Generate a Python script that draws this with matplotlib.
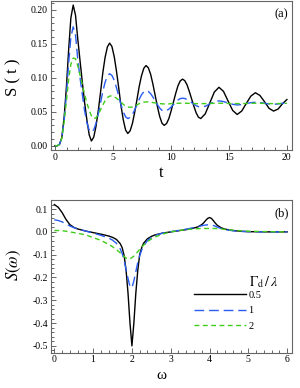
import matplotlib.pyplot as plt
from matplotlib.ticker import MultipleLocator, FormatStrFormatter

plt.rcParams['font.family'] = ['Liberation Serif', 'DejaVu Serif']
plt.rcParams['mathtext.fontset'] = 'stix'

# ---- panel (a): S(t) ----
t = [0.00, 0.20, 0.39, 0.59, 0.79, 0.98, 1.18, 1.37, 1.57, 1.77, 1.96, 2.16, 2.36,
     2.55, 2.75, 2.95, 3.14, 3.34, 3.53, 3.73, 3.93, 4.12, 4.32, 4.52, 4.71,
     4.91, 5.11, 5.30, 5.50, 5.69, 5.89, 6.09, 6.28, 6.48, 6.68, 6.87, 7.07,
     7.26, 7.46, 7.66, 7.85, 8.05, 8.25, 8.44, 8.64, 8.84, 9.03, 9.23, 9.42,
     9.62, 9.82, 10.01, 10.21, 10.41, 10.60, 10.80, 11.00, 11.19, 11.39, 11.58, 11.78,
     11.98, 12.17, 12.37, 12.57,
     12.96, 13.35, 13.74, 14.14, 14.53, 14.92, 15.32, 15.71, 16.10, 16.49,
     16.89, 17.28, 17.67, 18.06, 18.46, 18.85, 19.24, 19.63, 20.00]
s_05 = [0.000, 0.000, 0.002, 0.012, 0.042, 0.085, 0.142, 0.188, 0.207, 0.192, 0.158, 0.125, 0.093,
        0.064, 0.038, 0.016, 0.007, 0.0125, 0.028, 0.051, 0.079, 0.107, 0.130, 0.1455, 0.151,
        0.146, 0.131, 0.110, 0.0845, 0.059, 0.038, 0.023, 0.018, 0.022, 0.033, 0.049, 0.068,
        0.087, 0.103, 0.114, 0.118, 0.1147, 0.105, 0.091, 0.074, 0.057, 0.043, 0.033, 0.030,
        0.0326, 0.040, 0.051, 0.064, 0.077, 0.088, 0.0954, 0.098, 0.0958, 0.0895, 0.080, 0.069,
        0.058, 0.0485, 0.042, 0.040,
        0.047, 0.063, 0.079, 0.086, 0.080, 0.066, 0.052, 0.046, 0.051, 0.062,
        0.073, 0.078, 0.074, 0.065, 0.055, 0.051, 0.054, 0.062, 0.068]
s_1 = [0.000, 0.000, 0.002, 0.012, 0.038, 0.075, 0.122, 0.160, 0.175, 0.163, 0.128, 0.100, 0.075,
       0.052, 0.034, 0.023, 0.020, 0.0233, 0.0326, 0.0465, 0.063, 0.0795, 0.0934, 0.1027, 0.106,
       0.1035, 0.0963, 0.0856, 0.073, 0.0604, 0.0497, 0.0425, 0.040, 0.0416, 0.046, 0.0527, 0.0605,
       0.0683, 0.075, 0.0794, 0.081, 0.0799, 0.0766, 0.0717, 0.066, 0.0603, 0.0554, 0.0521, 0.051,
       0.0517, 0.0538, 0.0569, 0.0605, 0.0641, 0.0672, 0.0693, 0.070, 0.0695, 0.068, 0.066, 0.0635,
       0.061, 0.059, 0.0575, 0.057,
       0.058, 0.0615, 0.065, 0.066, 0.065, 0.063, 0.061, 0.060, 0.0606, 0.062,
       0.0634, 0.064, 0.0636, 0.0625, 0.0614, 0.061, 0.0615, 0.0625, 0.063]
s_2 = [0.000, 0.000, 0.002, 0.011, 0.035, 0.065, 0.098, 0.120, 0.129, 0.128, 0.118, 0.104, 0.090,
       0.076, 0.063, 0.052, 0.044, 0.040, 0.041, 0.046, 0.053, 0.060, 0.066, 0.071, 0.073,
       0.0735, 0.072, 0.070, 0.067, 0.064, 0.061, 0.058, 0.057, 0.0565, 0.057, 0.058, 0.060,
       0.062, 0.063, 0.064, 0.0645, 0.0645, 0.064, 0.0635, 0.063, 0.0625, 0.062, 0.0617, 0.0615,
       0.0615, 0.0615, 0.062, 0.062, 0.0622, 0.0625, 0.0625, 0.0625, 0.0625, 0.0625, 0.0623, 0.0622,
       0.062, 0.062, 0.062, 0.062,
       0.062, 0.0622, 0.0625, 0.0625, 0.0625, 0.0622, 0.062, 0.062, 0.062, 0.0622,
       0.0625, 0.0625, 0.0625, 0.0622, 0.062, 0.062, 0.062, 0.0622, 0.0625]

# ---- panel (b): S(omega) ----
w = [0.0, 0.1, 0.2, 0.3, 0.4, 0.5, 0.6, 0.8, 1.0, 1.2, 1.4, 1.5, 1.6, 1.7, 1.75,
     1.8, 1.85, 1.9, 1.95, 2.0, 2.05, 2.1, 2.15, 2.2, 2.25, 2.3, 2.4, 2.5, 2.6, 2.8,
     3.0, 3.2, 3.4, 3.6, 3.7, 3.8, 3.85, 3.9, 3.95, 4.0, 4.05, 4.1, 4.15, 4.2, 4.3,
     4.4, 4.6, 4.8, 5.0, 5.5, 6.0]
sw_05 = [0.120, 0.108, 0.085, 0.055, 0.032, 0.020, 0.013, 0.004, -0.003, -0.010,
         -0.018, -0.024, -0.033, -0.052, -0.070, -0.105, -0.170, -0.270, -0.400,
         -0.500, -0.400, -0.270, -0.170, -0.100, -0.070, -0.050, -0.030, -0.020,
         -0.013, -0.005, 0.000, 0.005, 0.010, 0.017, 0.022, 0.032, 0.040, 0.050,
         0.059, 0.063, 0.059, 0.049, 0.038, 0.029, 0.018, 0.012, 0.006, 0.003,
         0.001, 0.000, 0.000]
sw_1 = [0.053, 0.050, 0.044, 0.035, 0.026, 0.019, 0.013, 0.004, -0.005, -0.015,
        -0.027, -0.036, -0.050, -0.075, -0.095, -0.125, -0.165, -0.205, -0.240,
        -0.245, -0.215, -0.175, -0.135, -0.105, -0.080, -0.062, -0.038, -0.024,
        -0.015, -0.005, 0.001, 0.006, 0.012, 0.019, 0.023, 0.027, 0.029, 0.030,
        0.031, 0.031, 0.030, 0.028, 0.025, 0.021, 0.015, 0.010, 0.005, 0.002,
        0.001, 0.000, 0.000]
sw_2 = [0.006, 0.006, 0.005, 0.003, 0.000, -0.003, -0.006, -0.013, -0.025, -0.037,
        -0.055, -0.065, -0.078, -0.092, -0.100, -0.108, -0.115, -0.119, -0.118,
        -0.113, -0.106, -0.097, -0.087, -0.077, -0.067, -0.058, -0.043, -0.031,
        -0.022, -0.009, 0.000, 0.006, 0.010, 0.013, 0.014, 0.015, 0.015, 0.015,
        0.015, 0.015, 0.015, 0.015, 0.015, 0.014, 0.013, 0.011, 0.008, 0.005,
        0.003, 0.001, 0.000]

labels = ['0.5', '1', '2']
colors = ['black', '#2a5cf0', '#3fcc1a']
dashes = [None, (7, 3.5), (3.5, 2.5)]

fig = plt.figure(figsize=(3.0, 3.88), dpi=100)
ax1 = fig.add_axes([0.169, 0.6134, 0.804, 0.384])
ax2 = fig.add_axes([0.169, 0.091, 0.805, 0.3936])

for ys, c, d in zip([s_05, s_1, s_2], colors, dashes):
    line, = ax1.plot(t, ys, color=c, lw=1.0)
    if d:
        line.set_dashes(d)
for ys, c, d, lab in zip([sw_05, sw_1, sw_2], colors, dashes, labels):
    line, = ax2.plot(w, ys, color=c, lw=1.0, label=lab)
    if d:
        line.set_dashes(d)

ax1.set_xlim(-0.37, 20.43)
ax1.set_ylim(-0.0063, 0.213)
ax1.xaxis.set_major_locator(MultipleLocator(5))
ax1.xaxis.set_minor_locator(MultipleLocator(1))
ax1.yaxis.set_major_locator(MultipleLocator(0.05))
ax1.yaxis.set_minor_locator(MultipleLocator(0.01))
ax1.yaxis.set_major_formatter(FormatStrFormatter('%.2f'))

ax2.set_xlim(-0.093, 6.13)
ax2.set_ylim(-0.53, 0.14)
ax2.xaxis.set_major_locator(MultipleLocator(1))
ax2.xaxis.set_minor_locator(MultipleLocator(0.2))
ax2.yaxis.set_major_locator(MultipleLocator(0.1))
ax2.yaxis.set_minor_locator(MultipleLocator(0.02))
ax2.yaxis.set_major_formatter(FormatStrFormatter('%.1f'))

for ax in (ax1, ax2):
    ax.tick_params(which='both', direction='in', top=False, right=False,
                   labelsize=7, pad=2, width=0.6, color='0.3')
    ax.tick_params(which='major', length=3.5)
    ax.tick_params(which='minor', length=2)
    for sp in ax.spines.values():
        sp.set_color('0.4')
        sp.set_linewidth(0.8)

ax1.text(0.985, 0.95, '(a)', transform=ax1.transAxes, ha='right', va='top', fontsize=9)
ax2.text(0.985, 0.95, '(b)', transform=ax2.transAxes, ha='right', va='top', fontsize=9)

fig.text(0.5367, 0.555, 't', ha='center', va='center', fontsize=12)
fig.text(0.5367, 0.033, '\u03c9', ha='center', va='center', fontsize=11)
fig.text(0.045, 0.80, 'S ( t )', rotation=90, ha='center', va='center', fontsize=12)
fig.text(0.045, 0.317, r'$S(\omega)$', rotation=90, ha='center', va='center', fontsize=12)

ax2.legend(loc='upper left', bbox_to_anchor=(0.645, 0.2513), bbox_transform=fig.transFigure,
           frameon=False, fontsize=7.5, handlelength=5.0, handletextpad=0.25,
           labelspacing=0.6, borderpad=0, borderaxespad=0)
fig.text(0.925, 1 - 282 / 388, r'$\Gamma_{\rm d}\,/\,\lambda$', ha='right', va='center', fontsize=10)

fig.savefig('out.png', dpi=100)
